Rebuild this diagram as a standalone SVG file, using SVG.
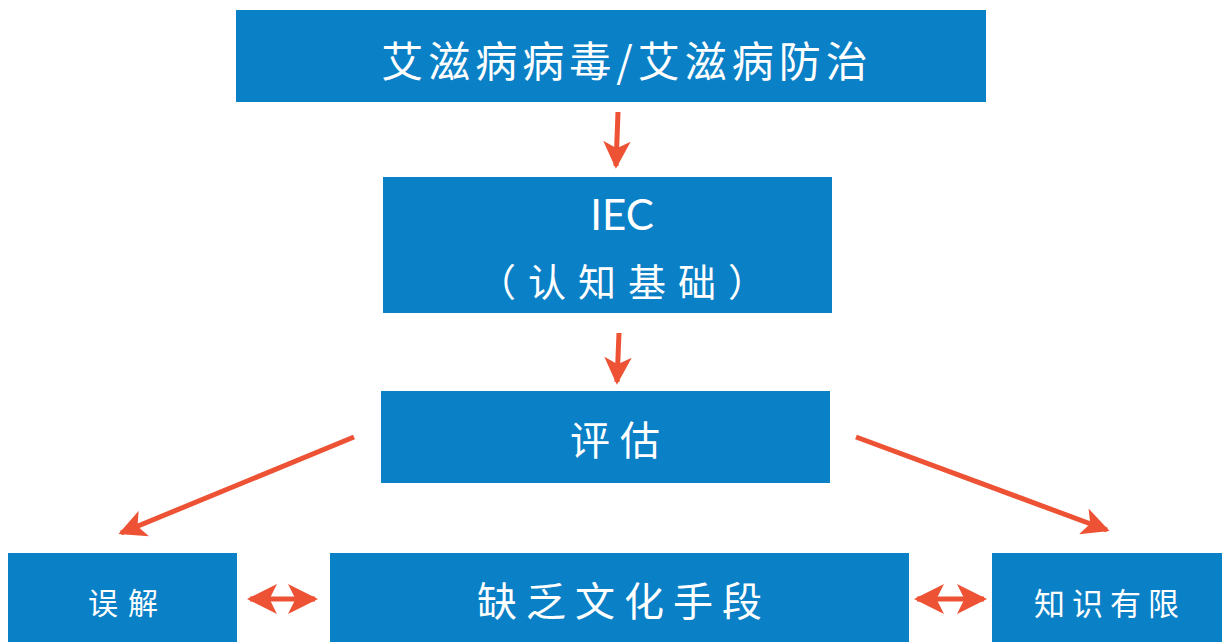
<svg xmlns="http://www.w3.org/2000/svg" width="1222" height="642" viewBox="0 0 1222 642">
<style>
.box{fill:#0A80C6}
.t{fill:#fff;font-family:"Noto Sans CJK SC","Noto Sans",sans-serif;text-anchor:middle;dominant-baseline:central}
.lat{fill:#fff;font-family:Lato,"Open Sans",sans-serif;text-anchor:middle;dominant-baseline:central}
.c{stroke:#EE5235;stroke-width:5;fill:none}
</style>
<defs>
<marker id="ah" viewBox="0 0 10 10" refX="9" refY="5" markerWidth="5.5" markerHeight="5.5" markerUnits="strokeWidth" orient="auto-start-reverse">
<path d="M0,0 L10,5 L0,10 L2.5,5 z" fill="#EE5235"/>
</marker>
<marker id="ah2" viewBox="0 0 10 10" refX="9" refY="5" markerWidth="6" markerHeight="6" markerUnits="strokeWidth" orient="auto-start-reverse">
<path d="M0,0 L10,5 L0,10 L2.5,5 z" fill="#EE5235"/>
</marker>
</defs>
<rect width="1222" height="642" fill="#fff"/>
<g id="n1"><rect class="box" x="236" y="10" width="750" height="92"/><text class="t" x="627" y="58" font-size="42" letter-spacing="5">艾滋病病毒/艾滋病防治</text></g>
<g id="n2"><rect class="box" x="383" y="177" width="449" height="136"/><text class="lat" x="622" y="214" font-size="42">IEC</text><text class="t" x="628" y="279" font-size="38" letter-spacing="12">（认知基础）</text></g>
<g id="n3"><rect class="box" x="381" y="391" width="449" height="92"/><text class="t" x="620" y="438" font-size="40" letter-spacing="10">评估</text></g>
<g id="n4"><rect class="box" x="8" y="553" width="229" height="89"/><text class="t" x="128" y="601" font-size="30" letter-spacing="10">误解</text></g>
<g id="n5"><rect class="box" x="330" y="553" width="579" height="89"/><text class="t" x="624" y="599" font-size="40" letter-spacing="9">缺乏文化手段</text></g>
<g id="n6"><rect class="box" x="992" y="553" width="230" height="89"/><text class="t" x="1110" y="601" font-size="31" letter-spacing="7">知识有限</text></g>
<g id="connectors">
<line class="c" x1="618" y1="112" x2="616" y2="166" marker-end="url(#ah)"/>
<line class="c" x1="619" y1="333" x2="617" y2="382" marker-end="url(#ah)"/>
<line class="c" x1="354" y1="437" x2="121" y2="533" marker-end="url(#ah)"/>
<line class="c" x1="856" y1="437" x2="1107" y2="530" marker-end="url(#ah)"/>
<line class="c" x1="250" y1="599" x2="315" y2="599" stroke-width="4" marker-start="url(#ah2)" marker-end="url(#ah2)"/>
<line class="c" x1="917" y1="599" x2="984" y2="599" stroke-width="4" marker-start="url(#ah2)" marker-end="url(#ah2)"/>
</g>
</svg>
